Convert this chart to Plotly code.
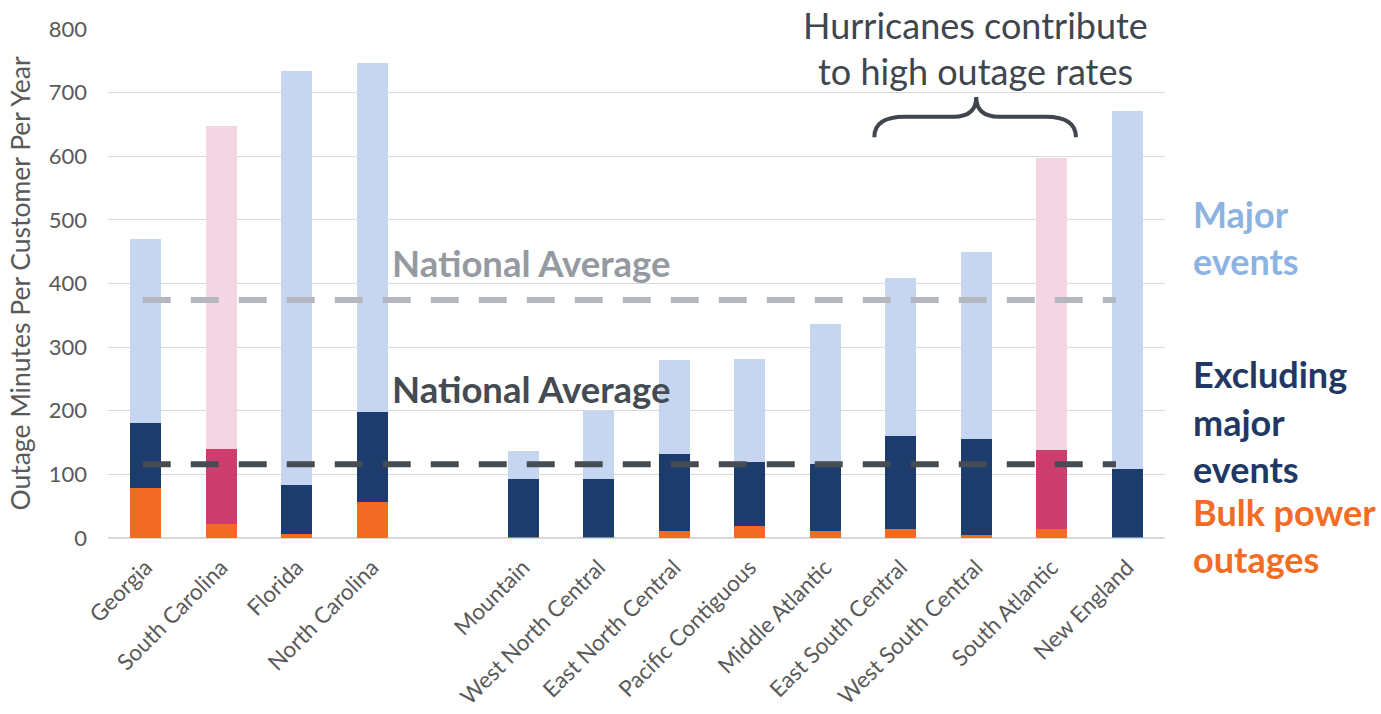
import plotly.graph_objects as go

# ---------------- data ----------------
categories = ["Georgia", "South Carolina", "Florida", "North Carolina", "",
              "Mountain", "West North Central", "East North Central", "Pacific Contiguous",
              "Middle Atlantic", "East South Central", "West South Central",
              "South Atlantic", "New England"]
# cumulative readings (minutes per customer per year)
bulk_power = [79, 22, 7, 56, None, 2, 2, 11, 19, 11, 14, 5, 14, 1]
excluding_major = [181, 140, 84, 198, None, 92, 92, 132, 120, 116, 160, 156, 138, 109]
including_major = [470, 647, 734, 747, None, 137, 200, 280, 282, 337, 409, 449, 598, 671]
hurricane_highlight = ["South Carolina", "South Atlantic"]
national_avg_all = 374
national_avg_excl = 116
y_ticks = [0, 100, 200, 300, 400, 500, 600, 700, 800]

# ---------------- styling ----------------
FONT = "Lato"
C_LIGHT = "#C6D6F0"
C_NAVY = "#1C3C6E"
C_ORANGE = "#F26B25"
C_PINK_LIGHT = "#F4D6E2"
C_MAGENTA = "#CD3E6F"
C_TEXT = "#595959"

pos = list(range(len(categories)))


def seg(top, bottom):
    return [None if t is None else (t - (b or 0)) for t, b in zip(top, bottom)]


seg_bulk = bulk_power
seg_excl = seg(excluding_major, bulk_power)
seg_major = seg(including_major, excluding_major)

mid_colors = [C_MAGENTA if c in hurricane_highlight else C_NAVY for c in categories]
top_colors = [C_PINK_LIGHT if c in hurricane_highlight else C_LIGHT for c in categories]

fig = go.Figure()
BW = 0.41
fig.add_trace(go.Bar(x=pos, y=seg_bulk, width=BW, marker=dict(color=C_ORANGE, line=dict(width=0)),
                     name="Bulk power outages"))
fig.add_trace(go.Bar(x=pos, y=seg_excl, width=BW, marker=dict(color=mid_colors, line=dict(width=0)),
                     name="Excluding major events"))
fig.add_trace(go.Bar(x=pos, y=seg_major, width=BW, marker=dict(color=top_colors, line=dict(width=0)),
                     name="Major events"))

# national average dashed lines
x_start = pos[0] - 0.04
x_end = pos[-1] - 0.15
fig.add_trace(go.Scatter(x=[x_start, x_end], y=[national_avg_all] * 2, mode="lines",
                         line=dict(color="#B4B8BE", width=6, dash="28px,20px"), hoverinfo="skip"))
fig.add_trace(go.Scatter(x=[x_start, x_end], y=[national_avg_excl] * 2, mode="lines",
                         line=dict(color="#474C53", width=6, dash="28px,20px"), hoverinfo="skip"))

# ---------------- layout helpers (pixel -> paper) ----------------
PL, PR, PT, PB = 108, 1165, 29, 538


def xp(px):
    return (px - PL) / (PR - PL)


def yp(py):
    return (PB - py) / (PB - PT)


annotations = []


def add_text(text, px, baseline, size, color, bold=False, xanchor="left"):
    t = f"<b>{text}</b>" if bold else text
    annotations.append(dict(text=t, x=xp(px), y=yp(baseline - 0.33 * size), xref="paper", yref="paper",
                            xanchor=xanchor, yanchor="middle", showarrow=False,
                            font=dict(family=FONT, size=size, color=color)))


add_text("National Average", 390, 275, 36.5, "#959AA1", bold=True)
add_text("National Average", 390, 401, 36.5, "#454B52", bold=True)
add_text("Hurricanes contribute", 975, 37, 36, "#40464D", xanchor="center")
add_text("to high outage rates", 975, 83, 36, "#40464D", xanchor="center")

RS = 36
add_text("Major", 1191, 226, RS, "#8DB3E2", bold=True)
add_text("events", 1191, 273, RS, "#8DB3E2", bold=True)
add_text("Excluding", 1191, 386, RS, "#1F3864", bold=True)
add_text("major", 1191, 434, RS, "#1F3864", bold=True)
add_text("events", 1191, 481, RS, "#1F3864", bold=True)
add_text("Bulk power", 1191, 524, RS, "#F36C24", bold=True)
add_text("outages", 1191, 571, RS, "#F36C24", bold=True)

# curly brace over hurricane-affected regions
x0, xm, x1 = 9.65, 11.0, 12.32
yb, yh, yt = 630, 662, 693
brace = (f"M {x0},{yb} Q {x0},{yh} {x0 + 0.4},{yh} L {xm - 0.3},{yh} Q {xm},{yh} {xm},{yt} "
         f"Q {xm},{yh} {xm + 0.3},{yh} L {x1 - 0.4},{yh} Q {x1},{yh} {x1},{yb}")

fig.update_layout(
    barmode="stack",
    width=1381, height=714,
    margin=dict(l=PL, r=1381 - PR, t=PT, b=714 - PB, pad=0, autoexpand=False),
    paper_bgcolor="white", plot_bgcolor="white",
    showlegend=False,
    font=dict(family=FONT, color=C_TEXT),
    annotations=annotations,
    shapes=[dict(type="path", path=brace, xref="x", yref="y",
                 line=dict(color="#40464D", width=4))],
    xaxis=dict(range=[-0.5, len(categories) - 0.5], tickmode="array", tickvals=pos,
               ticktext=categories, tickangle=-45, tickfont=dict(family=FONT, size=22.5, color=C_TEXT),
               showgrid=False, zeroline=False, showline=False, ticks="", ticklabelstandoff=11,
               automargin=False, fixedrange=True),
    yaxis=dict(range=[0, 800], tickvals=y_ticks, tickfont=dict(family=FONT, size=22, color=C_TEXT),
               showgrid=True, gridcolor="#D9D9D9", gridwidth=1.3, zeroline=True,
               zerolinecolor="#D9D9D9", zerolinewidth=2, showline=False, ticks="",
               ticklabelstandoff=20, automargin=False,
               title=dict(text="Outage Minutes Per Customer Per Year",
                          font=dict(family=FONT, size=26.5, color=C_TEXT), standoff=10),
               fixedrange=True),
)

fig.write_html("out.html")
